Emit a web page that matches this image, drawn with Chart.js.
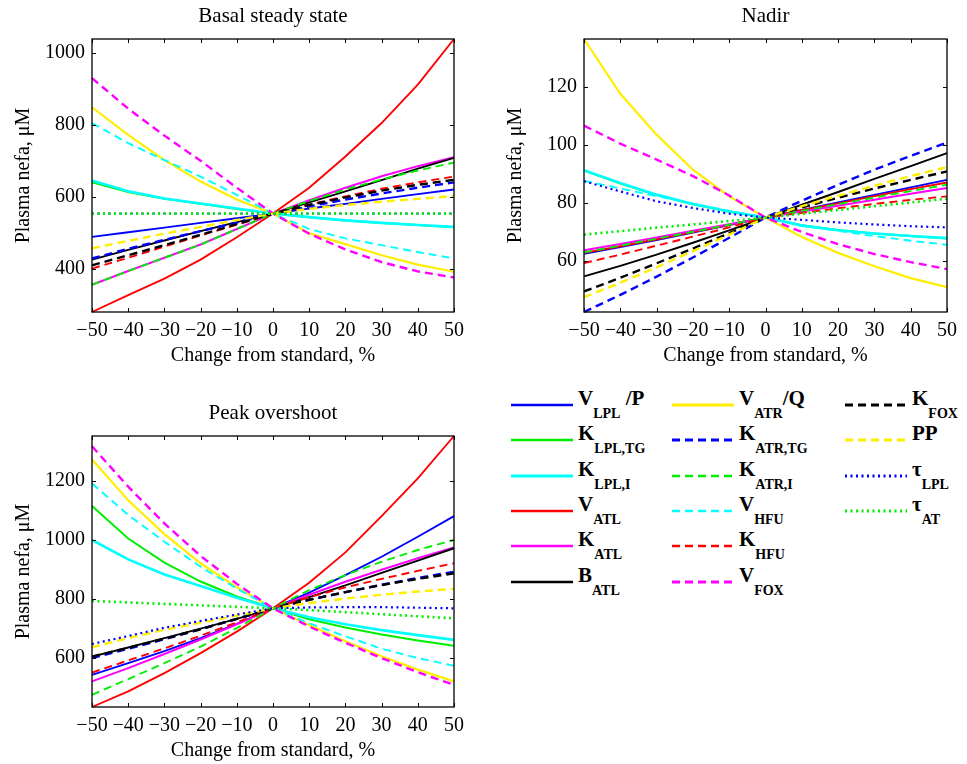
<!DOCTYPE html>
<html>
<head>
<meta charset="utf-8">
<script src="https://cdn.jsdelivr.net/npm/chart.js@4.4.1/dist/chart.umd.min.js"></script>
<style>
  body { margin: 0; background: #fff; width: 967px; height: 764px; position: relative; overflow: hidden; font-family: 'Liberation Serif', 'Times New Roman', serif; }
  canvas { position: absolute; }
  .leg { position: absolute; height: 30px; }
  .leg svg { position: absolute; left: 0; top: 0; }
  .leg .lbl { position: absolute; top: -13px; white-space: nowrap; font: bold 21px 'Liberation Serif', serif; color: #000; line-height: 21px; }
  .leg .lbl sub { font-size: 14px; vertical-align: -13px; line-height: 0; }
</style>
</head>
<body>
<canvas id="basalChart" width="480" height="375" style="left:0;top:0"></canvas>
<canvas id="nadirChart" width="475" height="375" style="left:492px;top:0"></canvas>
<canvas id="peakChart" width="480" height="373" style="left:0;top:397px"></canvas>
<div id="legend"></div>

<script>
// x positions (% change from standard)
const xValues = [-50, -40, -30, -20, -10, 0, 10, 20, 30, 40, 50];

// series names (html for the legend) in plotting order
const seriesLabels = [
  'V<sub>LPL</sub> /P', 'K<sub>LPL,TG</sub>', 'K<sub>LPL,I</sub>', 'V<sub>ATL</sub>', 'K<sub>ATL</sub>', 'B<sub>ATL</sub>',
  'V<sub>ATR</sub>/Q', 'K<sub>ATR,TG</sub>', 'K<sub>ATR,I</sub>', 'V<sub>HFU</sub>', 'K<sub>HFU</sub>', 'V<sub>FOX</sub>',
  'K<sub>FOX</sub>', 'PP', 'τ<sub>LPL</sub>', 'τ<sub>AT</sub>'
];

// Basal steady state values
const basalValues = [
  [488, 501, 514, 527, 540, 553, 567, 580, 594, 607, 620],
  [640, 613, 594, 580, 566, 553, 543, 534, 527, 521, 515],
  [645, 615, 595, 581, 567, 553, 543, 534, 527, 521, 516],
  [279, 326, 372, 425, 487, 553, 625, 712, 805, 912, 1039],
  [355, 393, 430, 467, 510, 553, 590, 625, 657, 685, 710],
  [425, 452, 478, 504, 529, 553, 584, 615, 646, 678, 708],
  [849, 772, 702, 642, 592, 553, 498, 468, 437, 411, 391],
  [428, 455, 480, 504, 528, 553, 573, 592, 609, 625, 640],
  [355, 393, 430, 467, 510, 553, 588, 620, 648, 673, 695],
  [805, 749, 702, 656, 605, 553, 510, 484, 465, 446, 428],
  [400, 430, 461, 492, 522, 553, 578, 601, 622, 640, 656],
  [930, 845, 770, 700, 625, 553, 497, 453, 418, 392, 375],
  [409, 437, 465, 494, 524, 553, 577, 598, 617, 633, 647],
  [456, 477, 497, 516, 535, 553, 566, 577, 586, 594, 602],
  [553, 553, 553, 553, 553, 553, 553, 553, 553, 553, 553],
  [553, 553, 553, 553, 553, 553, 553, 553, 553, 553, 553]
];

// Nadir values
const nadirValues = [
  [62.5, 64.8, 67.2, 69.8, 72.4, 75, 77.6, 80.2, 82.8, 85.4, 88.0],
  [91.2, 86.7, 82.8, 79.6, 77.0, 75, 72.3, 70.7, 69.5, 68.6, 67.8],
  [91.3, 86.9, 82.9, 79.7, 77.1, 75, 72.2, 70.6, 69.5, 68.6, 67.9],
  [62.8, 65.1, 67.5, 70.0, 72.5, 75, 77.5, 79.9, 82.4, 84.8, 87.1],
  [63.7, 65.9, 68.1, 70.4, 72.7, 75, 77.1, 79.1, 81.1, 83.2, 85.2],
  [54.7, 58.3, 62.2, 66.3, 70.6, 75, 79.4, 83.8, 88.3, 92.7, 97.2],
  [136.6, 117.7, 103.6, 91.5, 82.3, 75, 68.3, 62.8, 58.2, 54.1, 51.0],
  [42.4, 48.3, 54.6, 61.2, 68.0, 75, 80.8, 86.3, 91.5, 96.3, 100.9],
  [63.0, 65.3, 67.7, 70.1, 72.5, 75, 77.3, 79.6, 81.9, 84.1, 86.3],
  [87.7, 85.0, 82.4, 79.8, 77.3, 75, 72.4, 70.4, 68.6, 67.0, 65.6],
  [59.3, 62.2, 65.3, 68.4, 71.6, 75, 76.6, 78.2, 79.7, 81.1, 82.3],
  [106.7, 100.5, 95.0, 89.3, 82.6, 75, 70.0, 65.8, 62.4, 59.6, 57.2],
  [49.5, 54.2, 59.2, 64.3, 69.6, 75, 78.5, 81.8, 85.0, 88.0, 90.9],
  [47.5, 52.5, 57.8, 63.4, 69.1, 75, 78.9, 82.5, 86.0, 89.3, 92.4],
  [87.5, 84.0, 80.6, 78.3, 76.3, 75, 74.2, 73.3, 72.6, 72.0, 71.6],
  [69.1, 70.3, 71.5, 72.6, 73.8, 75, 76.3, 77.6, 78.9, 80.2, 81.5]
];

// Peak overshoot values
const peakValues = [
  [541, 581, 622, 666, 714, 767, 820, 880, 942, 1010, 1080],
  [1114, 1004, 922, 858, 807, 767, 730, 702, 678, 658, 640],
  [999, 933, 882, 843, 803, 767, 737, 713, 693, 676, 660],
  [432, 485, 547, 615, 688, 767, 854, 957, 1080, 1208, 1352],
  [519, 564, 612, 661, 713, 767, 813, 857, 898, 937, 974],
  [603, 634, 666, 698, 731, 767, 805, 845, 887, 929, 971],
  [1272, 1134, 1019, 920, 838, 767, 710, 655, 604, 559, 519],
  [598, 630, 662, 696, 731, 767, 796, 822, 847, 870, 891],
  [473, 527, 581, 637, 700, 767, 829, 880, 925, 965, 999],
  [1191, 1084, 993, 908, 834, 767, 716, 672, 630, 598, 572],
  [549, 590, 631, 674, 719, 767, 805, 838, 867, 894, 920],
  [1317, 1180, 1055, 945, 850, 767, 705, 650, 598, 550, 507],
  [603, 633, 664, 696, 731, 767, 796, 822, 846, 867, 886],
  [635, 666, 694, 718, 742, 767, 785, 800, 813, 824, 833],
  [646, 673, 701, 724, 746, 767, 770, 771, 771, 769, 767],
  [792, 787, 782, 777, 772, 767, 761, 754, 747, 740, 733]
];

// tick labels / axis limits
const xTicks = [-50, -40, -30, -20, -10, 0, 10, 20, 30, 40, 50];
const basalTicks = [400, 600, 800, 1000];
const nadirTicks = [60, 80, 100, 120];
const peakTicks = [600, 800, 1000, 1200];
const basalLimits = [279, 1039];
const nadirLimits = [42.4, 136.6];
const peakLimits = [432, 1352];

// line styles (MATLAB colours)
const DASH = [8, 5], DOT = [2, 3.5];
const seriesStyles = [
  { color: '#0000ff', dash: [], width: 1.9 },
  { color: '#00ee00', dash: [], width: 2 },
  { color: '#00ffff', dash: [], width: 2.6 },
  { color: '#ff0000', dash: [], width: 1.9 },
  { color: '#ff00ff', dash: [], width: 2 },
  { color: '#000000', dash: [], width: 1.9 },
  { color: '#ffee00', dash: [], width: 2.2 },
  { color: '#0000ff', dash: DASH, width: 2.4 },
  { color: '#00ee00', dash: DASH, width: 1.9 },
  { color: '#00ffff', dash: DASH, width: 1.9 },
  { color: '#ff0000', dash: DASH, width: 1.9 },
  { color: '#ff00ff', dash: DASH, width: 2.4 },
  { color: '#000000', dash: DASH, width: 2.4 },
  { color: '#ffee00', dash: DASH, width: 2.4 },
  { color: '#0000ff', dash: DOT, width: 2.2 },
  { color: '#00ee00', dash: DOT, width: 2.6 }
];

const FONT = "'Liberation Serif', 'Times New Roman', serif";

// box around the axes with inward tick marks (MATLAB look)
const frameTicks = {
  id: 'frameTicks',
  afterDatasetsDraw(chart) {
    const { ctx, chartArea: a, scales: { x, y } } = chart;
    const len = 4;
    ctx.save();
    ctx.strokeStyle = '#000';
    ctx.lineWidth = 1;
    ctx.beginPath();
    x.ticks.forEach(t => {
      const px = Math.round(x.getPixelForValue(t.value)) + 0.5;
      ctx.moveTo(px, a.bottom); ctx.lineTo(px, a.bottom - len);
      ctx.moveTo(px, a.top); ctx.lineTo(px, a.top + len);
    });
    y.ticks.forEach(t => {
      const py = Math.round(y.getPixelForValue(t.value)) + 0.5;
      ctx.moveTo(a.left, py); ctx.lineTo(a.left + len, py);
      ctx.moveTo(a.right, py); ctx.lineTo(a.right - len, py);
    });
    ctx.stroke();
    ctx.lineWidth = 1.3;
    ctx.strokeRect(a.left, a.top, a.right - a.left, a.bottom - a.top);
    ctx.restore();
  }
};

const fmt = v => (v < 0 ? '\u2212' + Math.abs(v) : String(v));

function makeChart(id, title, values, limits, yTicks, padRight) {
  const datasets = values.map((row, i) => ({
    label: seriesLabels[i],
    data: row.map((v, j) => ({ x: xValues[j], y: v })),
    borderColor: seriesStyles[i].color,
    borderDash: seriesStyles[i].dash,
    borderWidth: seriesStyles[i].width,
    pointRadius: 0,
    tension: 0,
    fill: false,
    clip: false,
    order: -i
  }));
  return new Chart(document.getElementById(id), {
    type: 'line',
    data: { datasets },
    options: {
      responsive: false,
      animation: false,
      layout: { padding: { left: 0, right: padRight, top: 0, bottom: 0 } },
      plugins: {
        legend: { display: false },
        tooltip: { enabled: false },
        title: {
          display: true, text: title, color: '#000', fullSize: false,
          font: { family: FONT, size: 21, weight: 'normal' },
          padding: { top: 4, bottom: 9.8 }
        }
      },
      scales: {
        x: {
          type: 'linear', min: -50, max: 50,
          afterBuildTicks: s => { s.ticks = xTicks.map(v => ({ value: v })); },
          afterFit: s => { s.height = 63; },
          grid: { display: false, drawTicks: false },
          border: { display: false },
          ticks: { padding: 7, color: '#000', autoSkip: false, maxRotation: 0, minRotation: 0,
                   font: { family: FONT, size: 20 }, callback: v => fmt(v) },
          title: { display: true, text: 'Change from standard, %', color: '#000',
                   font: { family: FONT, size: 20 }, padding: { top: 0, bottom: 7 } }
        },
        y: {
          type: 'linear', min: limits[0], max: limits[1],
          afterBuildTicks: s => { s.ticks = yTicks.map(v => ({ value: v })); },
          afterFit: s => { s.width = 92; },
          grid: { display: false, drawTicks: false },
          border: { display: false },
          ticks: { padding: 7, color: '#000', font: { family: FONT, size: 20 }, callback: v => fmt(v) },
          title: { display: true, text: 'Plasma nefa, μM', color: '#000',
                   font: { family: FONT, size: 20 }, padding: { top: 12, bottom: 0 } }
        }
      }
    },
    plugins: [frameTicks]
  });
}

makeChart('basalChart', 'Basal steady state', basalValues, basalLimits, basalTicks, 26);
makeChart('nadirChart', 'Nadir', nadirValues, nadirLimits, nadirTicks, 20);
makeChart('peakChart', 'Peak overshoot', peakValues, peakLimits, peakTicks, 26);

// legend (three columns, six rows)
const legendCols = [511, 672, 845];
const legendTop = 405, legendRow = 35.3, swatchW = 62;
const legendEl = document.getElementById('legend');
seriesLabels.forEach((lab, i) => {
  const col = Math.floor(i / 6), row = i % 6;
  const st = seriesStyles[i];
  const item = document.createElement('div');
  item.className = 'leg';
  item.style.left = legendCols[col] + 'px';
  item.style.top = (legendTop + row * legendRow - 4) + 'px';
  item.innerHTML =
    `<svg width="${swatchW}" height="8"><line x1="0" y1="4" x2="${swatchW}" y2="4" stroke="${st.color}" ` +
    `stroke-width="${st.width + 0.6}" stroke-dasharray="${st.dash.join(' ')}"/></svg>` +
    `<span class="lbl" style="left:${swatchW + 5}px">${lab}</span>`;
  legendEl.appendChild(item);
});
</script>
</body>
</html>
